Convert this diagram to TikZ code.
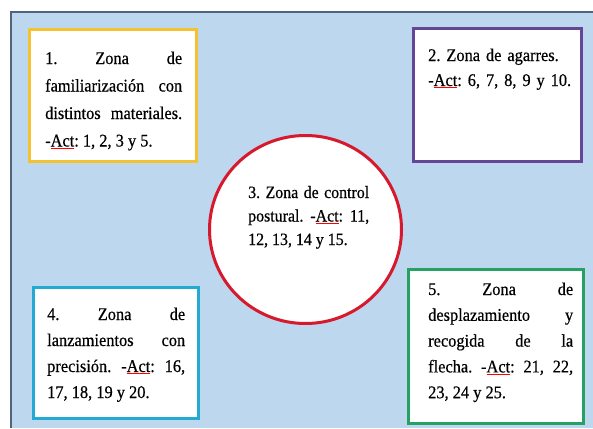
\documentclass[tikz,border=0pt]{standalone}
\usepackage{fontspec}
\setmainfont[FakeStretch=0.92, FakeBold=0.5]{Liberation Serif}
\usetikzlibrary{shapes.geometric,calc}
\definecolor{bgblue}{RGB}{189,215,238}
\definecolor{framec}{RGB}{80,100,125}
\definecolor{yelc}{RGB}{244,194,48}
\definecolor{purc}{RGB}{100,70,150}
\definecolor{redc}{RGB}{215,25,45}
\definecolor{cyac}{RGB}{35,170,210}
\definecolor{grnc}{RGB}{40,160,100}
\newcommand\actu{{\color{red}\underline{\textcolor{black}{Act}}}}
\begin{document}
\frenchspacing
\begin{tikzpicture}[x=1pt,y=-1pt,
  zone/.style={draw, line width=3pt, fill=white, rectangle, inner sep=0pt},
  zonecirc/.style={draw, line width=3pt, fill=white, ellipse, inner sep=0pt},
  txt/.style={anchor=base west, inner sep=0pt, align=justify, text=black}]
\useasboundingbox (0,0) rectangle (593,428);
\fill[bgblue] (11,12) rectangle (593,428);
\draw[framec, line width=1.5pt] (11,428) -- (11,12) -- (593,12);

% zone 1
\node[zone, draw=yelc, minimum width=167pt, minimum height=132pt] (z1) at (113,95.5) {};
\node[txt, text width=137pt, font=\fontsize{17.8}{27.5}\selectfont] (t1) at (45,64)
  {1. Zona de\linebreak familiarización con\linebreak distintos materiales.\linebreak -\actu: 1, 2, 3 y 5.};

% zone 2
\node[zone, draw=purc, minimum width=168pt, minimum height=133pt] (z2) at (497.5,95) {};
\node[txt, text width=150pt, align=left, font=\fontsize{17.8}{25}\selectfont] (t2) at (428,61)
  {2. Zona de agarres.\\ -\actu: 6, 7, 8, 9 y 10.};

% zone 3
\node[zonecirc, draw=redc, minimum width=192pt, minimum height=188pt] (z3) at (305.5,229.5) {};
\node[txt, text width=121pt, font=\fontsize{17.3}{23.5}\selectfont] (t3) at (248,198)
  {3. Zona de control\linebreak postural. -\actu: 11,\linebreak 12, 13, 14 y 15.};

% zone 4
\node[zone, draw=cyac, minimum width=165pt, minimum height=131pt] (z4) at (116,353) {};
\node[txt, text width=138pt, font=\fontsize{17.8}{26}\selectfont] (t4) at (47,320)
  {4. Zona de\linebreak lanzamientos con\linebreak precisión. -\actu: 16,\linebreak 17, 18, 19 y 20.};

% zone 5
\node[zone, draw=grnc, minimum width=175pt, minimum height=154pt] (z5) at (496,346.5) {};
\node[txt, text width=145pt, font=\fontsize{17.8}{25.8}\selectfont] (t5) at (428,295)
  {5. Zona de\linebreak desplazamiento y\linebreak recogida de la\linebreak flecha. -\actu: 21, 22,\linebreak 23, 24 y 25.};
\end{tikzpicture}
\end{document}
